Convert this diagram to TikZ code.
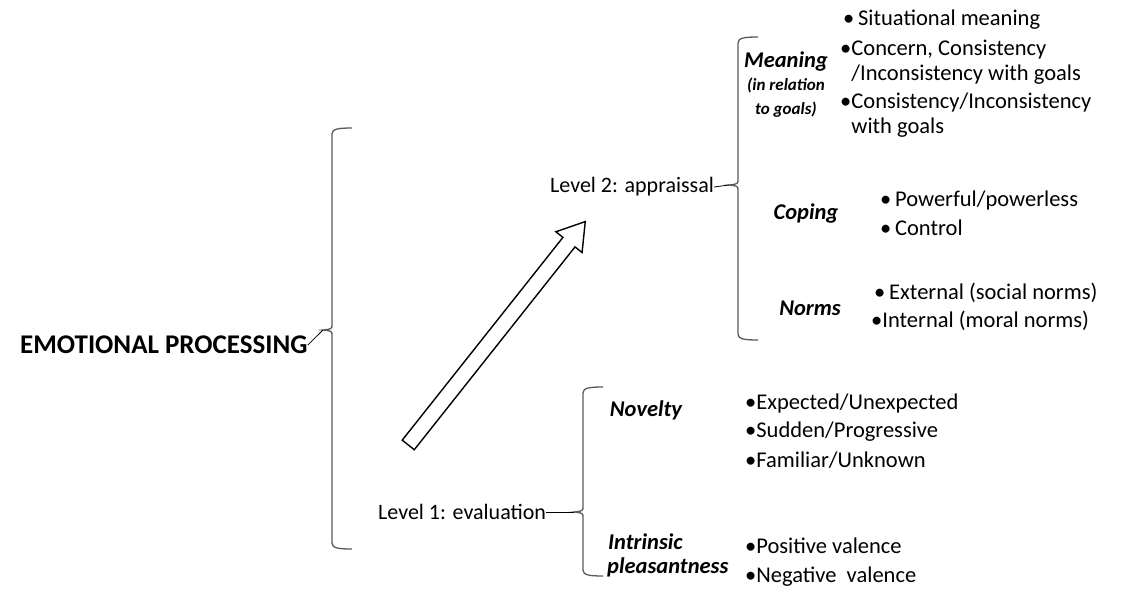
\documentclass[tikz,border=0pt]{standalone}
\usepackage{fontspec}
\setmainfont{Carlito}
\usetikzlibrary{shapes.arrows}

% brace drawn like the office-style bracket: x, top y, bottom y, tip y, tip name
\newcommand{\wordbrace}[5]{%
  \draw[bracestyle] (#1+20,#2) .. controls (#1+6,#2) and (#1,#2+1) .. (#1,#2+6)
    -- (#1,#4-6) .. controls (#1,#4-1) .. (#1-9,#4)
    .. controls (#1,#4+1) .. (#1,#4+6)
    -- (#1,#3-6) .. controls (#1,#3-1) and (#1+6,#3) .. (#1+20,#3);
  \coordinate (#5) at (#1-9,#4);}

\tikzset{
  bracestyle/.style={draw=black!65, line width=1.3pt},
  linkline/.style={draw=black, line width=0.8pt},
  maintext/.style={font=\fontsize{22}{27}\selectfont, inner sep=0pt},
  headtext/.style={font=\fontsize{22.5}{26}\selectfont\bfseries\itshape, inner sep=0pt, align=center},
  itemtext/.style={font=\fontsize{22.5}{25}\selectfont, inner sep=0pt, anchor=west, align=left},
}

\begin{document}
\begin{tikzpicture}[x=1pt, y=-1pt]
  \useasboundingbox (0,0) rectangle (1144,589);

  % left title and big brace
  \node[maintext, font=\fontsize{27}{30}\selectfont\bfseries, anchor=west] (emo) at (20,345) {EMOTIONAL PROCESSING};
  \wordbrace{332}{128}{549}{330}{tip0}
  \draw[linkline] (emo.east) -- (tip0);

  % the two levels
  \node[maintext, anchor=west] (level2) at (550,187) {Level 2: appraissal};
  \node[maintext, anchor=west] (level1) at (378,512) {Level 1: evaluation};
  \wordbrace{738}{37}{340}{185}{tip2}
  \wordbrace{583}{387}{576}{512}{tip1}
  \draw[linkline] (level2.east) -- (tip2);
  \draw[linkline] (level1.east) -- (tip1);

  % block arrow from level 1 up to level 2
  \node[single arrow, draw, line width=1.4pt, rotate=51.6, inner sep=0pt,
        minimum height=285pt, text height=0pt, text depth=0pt, inner ysep=7pt,
        single arrow head extend=9pt, single arrow tip angle=65] (uparrow) at (493,338) {};

  % level 2 criteria
  \node[headtext] (meaning) at (786,85) {Meaning\\[-3pt]{\fontsize{17}{21}\selectfont (in relation}\\[-2pt]{\fontsize{17}{21}\selectfont to goals)}};
  \node[headtext] (coping) at (806,213) {Coping};
  \node[headtext] (norms) at (810,308) {Norms};

  \node[itemtext] (m1) at (843,20) {•\,Situational meaning};
  \node[itemtext] (m2) at (840,62) {•Concern, Consistency\\\hphantom{•}/Inconsistency with goals};
  \node[itemtext] (m3) at (840,115) {•Consistency/Inconsistency\\\hphantom{•}with goals};
  \node[itemtext] (c1) at (880,200) {•\,Powerful/powerless};
  \node[itemtext] (c2) at (880,228) {•\,Control};
  \node[itemtext] (n1) at (874,293) {•\,External (social norms)};
  \node[itemtext] (n2) at (871,321) {•Internal (moral norms)};

  % level 1 criteria
  \node[headtext] (novelty) at (646,410) {Novelty};
  \node[headtext, anchor=west, align=left] (pleasant) at (607,555) {\hspace*{1pt}Intrinsic\\[-2pt]pleasantness};

  \node[itemtext] (v1) at (745,403) {•Expected/Unexpected};
  \node[itemtext] (v2) at (745,432) {•Sudden/Progressive};
  \node[itemtext] (v3) at (745,460) {•Familiar/Unknown};
  \node[itemtext] (p1) at (745,546) {•Positive valence};
  \node[itemtext] (p2) at (745,577) {•Negative~ valence};
\end{tikzpicture}
\end{document}
